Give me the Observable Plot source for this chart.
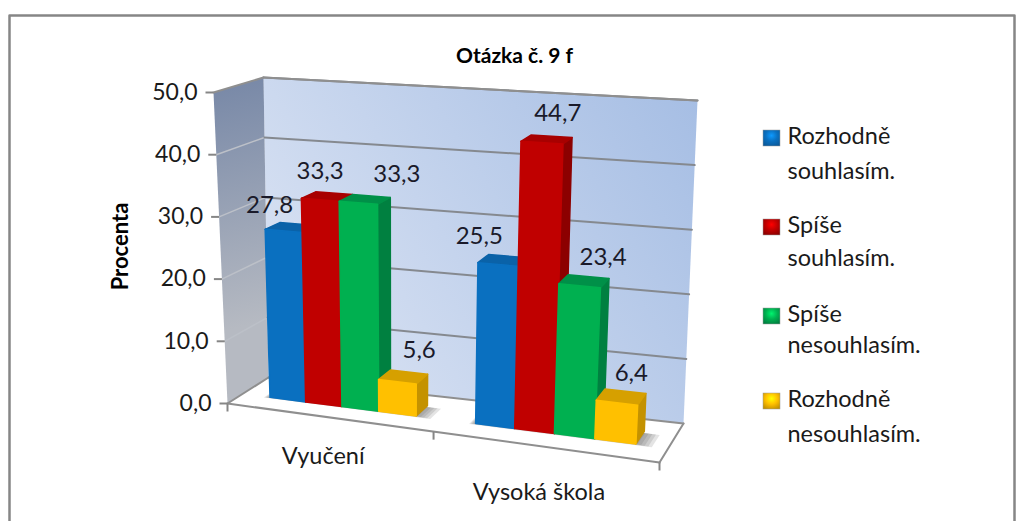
<!DOCTYPE html>
<html><head><meta charset="utf-8">
<script src="https://cdn.jsdelivr.net/npm/d3@7"></script>
<script src="https://cdn.jsdelivr.net/npm/@observablehq/plot@0.6"></script>
<style>
html,body{margin:0;padding:0;background:#fff}
</style></head><body>
<div id="chart"></div>
<script>
const categories = ["Vyučení", "Vysoká škola"];
const seriesNames = ["Rozhodně souhlasím.", "Spíše souhlasím.", "Spíše nesouhlasím.", "Rozhodně nesouhlasím."];
const vyuceni = [27.8, 33.3, 33.3, 5.6];
const vysokaSkola = [25.5, 44.7, 23.4, 6.4];
const valueTicks = [0, 10, 20, 30, 40, 50];
const front = ["#0a70c0", "#c00000", "#00b050", "#ffc000"];
const side = ["#0a5a9c", "#8c0000", "#008040", "#c49200"];
const topFace = ["#0a62a8", "#a80000", "#009048", "#d6a000"];

// Projection of the chart's 3D box (u along categories, v depth, w value share) on the picture
const box = {
  fl0:[227,403], fr0:[659,462], bl0:[268,377], br0:[683,423],
  fl1:[213,92],  fr1:[678,118], bl1:[263,77],  br1:[697,100]
};
const persp = 0.912;
const warp = u => u*persp/(1+(persp-1)*u);
const mix = (a,b,t) => [a[0]+(b[0]-a[0])*t, a[1]+(b[1]-a[1])*t];
function P(uRaw,v,w){
  const u = warp(uRaw);
  const bottom = mix(mix(box.fl0,box.fr0,u), mix(box.bl0,box.br0,u), v);
  const top = mix(mix(box.fl1,box.fr1,u), mix(box.bl1,box.br1,u), v);
  return mix(bottom,top,w);
}
const W = v => v/50;
const bevelTrim = 0.012;
const groupBand = 0.5, barW = 0.09, barMargin = 0.07, v0 = 0.37, v1 = 0.70;

let nextId = 0;
function face(list, corners, fill){
  const id = nextId++;
  corners.forEach(c => { const p = P(...c); list.push({id, x:p[0], y:p[1], fill}); });
}
const barFaces = [], shadowFaces = [], barLabels = [];
const groups = [vyuceni, vysokaSkola];
const labelNudge = [[[-21,-19],[-7,-21],[32,-21],[16,-23]],[[-24,-20],[11,-22],[19,-20],[10,-20]]];
groups.forEach((vals,g) => {
  const start = g*groupBand + barMargin;
  [0.036,0.028,0.02,0.012,0.004].forEach(grow => {
    const l = start-grow*0.35, r = start+4*barW+grow, f = v0-grow*0.9;
    face(shadowFaces, [[l,f,0],[r,f,0],[r,v1-0.04,0],[l,v1-0.04,0]], "#555");
  });
  vals.forEach((val,i) => {
    const a = start+i*barW, b = a+barW, w = W(val)-bevelTrim;
    face(barFaces, [[b,v0,0],[b,v1,0],[b,v1,w],[b,v0,w]], side[i]);
    face(barFaces, [[a,v0,w],[b,v0,w],[b,v1,w],[a,v1,w]], topFace[i]);
    face(barFaces, [[a,v0,0],[b,v0,0],[b,v0,w],[a,v0,w]], front[i]);
    const p = P((a+b)/2,(v0+v1)/2,W(val));
    barLabels.push({x:p[0]+labelNudge[g][i][0], y:p[1]+labelNudge[g][i][1], text:val.toFixed(1).replace(".",",")});
  });
});

const poly = (corners) => corners.map(c => { const p=P(...c); return {x:p[0],y:p[1]}; });
const segment = (id,a,b) => { const p=P(...a), q=P(...b); return [{id,x:p[0],y:p[1]},{id,x:q[0],y:q[1]}]; };

const wallGrid = valueTicks.slice(1).flatMap(t => segment("g"+t,[0,1,W(t)],[1,1,W(t)]));
const sideGrid = valueTicks.slice(1,-1).flatMap(t => segment("s"+t,[0,0,W(t)],[0,1,W(t)]));
const floorEdges = [
  ...segment("f1",[0,0,0],[1,0,0]), ...segment("f2",[1,0,0],[1,1,0]),
  ...segment("f3",[1,1,0],[0,1,0]), ...segment("f4",[0,1,0],[0,0,0]),
  ...segment("t1",[0,0,1],[0,1,1]), ...segment("t2",[0,1,1],[1,1,1])
];
const axisTicks = valueTicks.map(t => { const p=P(0,0,W(t)); return {t,x:p[0],y:p[1]}; });
const catTicks = [0,0.5,1].map(u => { const p=P(u,0,0); return {x:p[0],y:p[1]}; });
const catLabels = categories.map((c,i) => { const p=P(i*groupBand+groupBand/2,0,0); return {c,x:p[0]-5,y:p[1]+[39,46][i]}; });

const legendRows = [136,225,314,399];
const legendText = seriesNames.flatMap((s,i) => { const parts=s.split(" "); return [
  {t:parts[0],y:legendRows[i]},{t:parts[1],y:legendRows[i]+[35,33,31,35][i]}]; });
const legendBoxes = seriesNames.map((s,i) => ({i,y:legendRows[i]+1,f:`url(#sw${i})`}));

const chart = Plot.plot({
  width:1024, height:521, margin:0,
  x:{domain:[0,1024],range:[0,1024],axis:null},
  y:{domain:[0,521],range:[0,521],axis:null},
  color:{type:"identity"},
  style:{fontFamily:"Lato, sans-serif",background:"#fff",color:"#1a1a1a"},
  marks:[
    Plot.line([{x:9,y:15},{x:1014,y:15},{x:1014,y:530},{x:9,y:530}],{x:"x",y:"y",curve:"linear-closed",stroke:"#868686",strokeWidth:2.5,fill:"#fff"}),
    Plot.line(poly([[0,1,0],[1,1,0],[1,1,1],[0,1,1]]),{x:"x",y:"y",curve:"linear-closed",fill:"url(#wall)",stroke:"none"}),
    Plot.line(poly([[0,0,0],[0,1,0],[0,1,1],[0,0,1]]),{x:"x",y:"y",curve:"linear-closed",fill:"url(#sidewall)",stroke:"none"}),
    Plot.line(poly([[0,0,0],[1,0,0],[1,1,0],[0,1,0]]),{x:"x",y:"y",curve:"linear-closed",fill:"#fff",stroke:"none"}),
    Plot.line(sideGrid,{x:"x",y:"y",z:"id",stroke:"#bcc0c8",strokeWidth:1.5}),
    Plot.line(wallGrid,{x:"x",y:"y",z:"id",stroke:"#85898f",strokeWidth:2}),
    Plot.line(floorEdges,{x:"x",y:"y",z:"id",stroke:"#8f8f8f",strokeWidth:2}),
    Plot.link(axisTicks,{x1:d=>d.x-8,x2:"x",y1:"y",y2:"y",stroke:"#868686",strokeWidth:2}),
    Plot.link(catTicks,{x1:"x",x2:"x",y1:"y",y2:d=>d.y+8,stroke:"#868686",strokeWidth:2}),
    Plot.text(axisTicks,{x:"x",y:"y",dx:-16,text:d=>d.t.toFixed(1).replace(".",","),textAnchor:"end",fontSize:23,fill:"#1a1a1a"}),
    Plot.line(shadowFaces,{x:"x",y:"y",z:"id",curve:"linear-closed",fill:"fill",stroke:"none",fillOpacity:0.16}),
    Plot.line(barFaces,{x:"x",y:"y",z:"id",curve:"linear-closed",fill:"fill",stroke:"fill",strokeWidth:1.5,strokeLinejoin:"round"}),
    Plot.text(barLabels,{x:"x",y:"y",text:"text",fontSize:24,fill:"#1a1a2a"}),
    Plot.text(catLabels,{x:"x",y:"y",text:"c",fontSize:23.5,fill:"#1a1a1a"}),
    Plot.text(["Otázka č. 9 f"],{x:()=>514,y:()=>56,text:d=>d,fontSize:21,fontWeight:"bold",fill:"#000"}),
    Plot.text(["Procenta"],{x:()=>120,y:()=>246,text:d=>d,fontSize:22,fontWeight:"bold",rotate:-90,fill:"#000"}),
    Plot.rect(legendBoxes,{x1:()=>763,x2:()=>780,y1:d=>d.y-7,y2:d=>d.y+9,fill:"f",stroke:"#9a9a9a",strokeWidth:0.5}),
    Plot.text(legendText,{x:()=>787,y:"y",text:"t",textAnchor:"start",fontSize:23.5,fill:"#1a1a1a"})
  ]
});
const swatchStops = front.map((c,i)=>`<radialGradient id="sw${i}" cx="50%" cy="35%" r="70%">
<stop offset="0" stop-color="${d3.color(c).brighter(0.9)}"/><stop offset="0.5" stop-color="${c}"/><stop offset="1" stop-color="${side[i]}"/></radialGradient>`).join("");
chart.insertAdjacentHTML("afterbegin",`<defs>
<linearGradient id="wall" gradientUnits="userSpaceOnUse" x1="268" y1="377" x2="697" y2="100">
<stop offset="0" stop-color="#dde5f4"/><stop offset="1" stop-color="#a6bee4"/></linearGradient>
<linearGradient id="sidewall" gradientUnits="userSpaceOnUse" x1="213" y1="92" x2="268" y2="320">
<stop offset="0" stop-color="#7a8aa8"/><stop offset="1" stop-color="#b6bac2"/></linearGradient>
${swatchStops}
</defs>`);
document.getElementById("chart").appendChild(chart);
</script></body></html>
